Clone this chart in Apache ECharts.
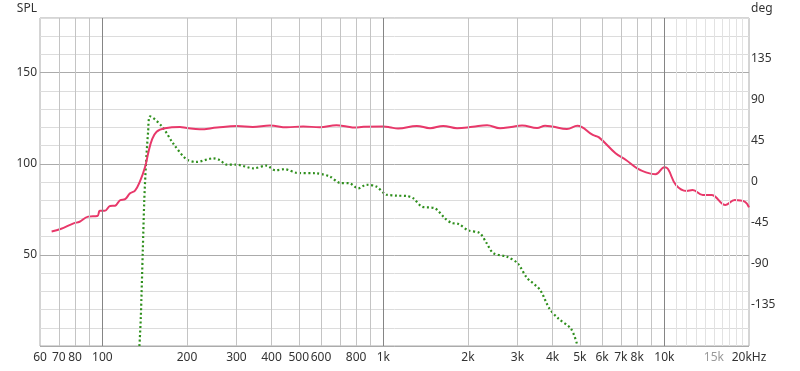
<!DOCTYPE html>
<html>
<head>
<meta charset="utf-8">
<script src="https://cdn.jsdelivr.net/npm/echarts@6/dist/echarts.min.js"></script>
<style>html,body{margin:0;padding:0;background:#fff}#c{width:800px;height:371px}</style>
</head>
<body>
<div id="c"></div>
<script>
// SPL response (Hz, dB)
const splFreq = [66,71,79,83,89,96,98,102,106.5,111,115.6,120.5,125.5,130.7,136,142,146,150,156,167,189,200,222,256,301,343,395,453,518,594,681,740,790,850,1000,1050,1128,1315,1466,1632,1829,2080,2339,2602,2850,3116,3524,3762,4000,4499,4900,5560,5850,6700,7300,8000,8600,9300,10000,10300,11000,12000,12600,13700,14700,16500,17800,19300,20000];
const splValue = [62.8,64.2,67.3,68.2,71,71.3,74.2,74.2,76.8,77,80,80.6,83.8,85.3,90.2,98.4,106.6,113,117.6,119.5,120.2,119.6,118.9,119.9,120.7,120.2,121,120,120.5,120,121.1,120.5,119.9,120.3,120.4,120.1,119.3,120.8,119.5,120.8,119.5,120.3,121.1,119.5,120.2,121,119.6,120.9,120.4,119.1,120.9,115.8,114.5,105.8,102.1,97.5,95.3,94.2,98.1,97.1,88.3,85.1,85.6,82.9,82.9,77.4,80.1,79.2,76.1];
// Phase (Hz, deg)
const phaseFreq = [135.5,137,139.3,141,143,145.5,148,163,179,199,216,248,262,277,300,345,384,412,446,492,578,645,700,760,813,870,944,1010,1024,1120,1212,1279,1370,1528,1658,1750,1850,2000,2200,2330,2460,2750,3000,3240,3600,3900,4200,4650,4900];
const phaseValue = [-180,-150,-75,-20,20,55,72,61,42,25,22,26,24,19,19,15,18,13,14,10,9.5,6,-1,-1.5,-7,-3,-5,-13,-14,-15,-15.4,-18,-27,-29,-40,-45,-46,-53,-56,-67,-78,-82,-89,-105,-118,-139,-150,-161,-179];
// X axis ticks
const tickFreqs = [60,70,80,100,200,300,400,500,600,800,1000,2000,3000,4000,5000,6000,7000,8000,10000,15000,20000];
const tickLabels = ['60','70','80','100','200','300','400','500','600','800','1k','2k','3k','4k','5k','6k','7k','8k','10k','15k','20kHz'];
const mutedLabels = ['15k'];
const gridMinorFreqs = [70,80,90,200,300,400,500,600,700,800,900,2000,3000,4000,5000,6000,7000,8000,9000];
const gridMajorFreqs = [100,1000,10000];
const gridFaintFreqs = [11000,12000,13000,14000,15000,16000,17000,18000,19000];
const splTickLabels = [50,100,150];
const degTickLabels = [-135,-90,-45,0,45,90,135];

const FONT = 'Noto Sans';
const chart = echarts.init(document.getElementById('c'));

const gridLines = [];
gridMinorFreqs.forEach(f => gridLines.push({xAxis: f, lineStyle: {color: '#c4c4c4', width: 1, type: 'solid'}}));
gridFaintFreqs.forEach(f => gridLines.push({xAxis: f, lineStyle: {color: '#e2e2e2', width: 1, type: 'solid'}}));
gridMajorFreqs.forEach(f => gridLines.push({xAxis: f, lineStyle: {color: '#858585', width: 1, type: 'solid'}}));

const labelLines = tickFreqs.map((f, i) => ({
  xAxis: f,
  lineStyle: {color: 'rgba(0,0,0,0)', width: 1},
  label: {
    show: true, position: 'start', distance: 6,
    formatter: tickLabels[i],
    color: mutedLabels.includes(tickLabels[i]) ? '#9a9a9a' : '#333',
    fontFamily: FONT, fontSize: 12
  }
}));

chart.setOption({
  animation: false,
  grid: {left: 40, right: 51, top: 18, bottom: 25, show: true, borderColor: '#aaa', borderWidth: 1, containLabel: false},
  xAxis: {
    type: 'log', logBase: 10, min: 60, max: 20000,
    axisLine: {show: false}, axisTick: {show: false}, axisLabel: {show: false},
    splitLine: {show: false}, minorSplitLine: {show: false}
  },
  yAxis: [{
    type: 'value', min: 0, max: 180, interval: 10, position: 'left',
    name: 'SPL', nameLocation: 'end', nameGap: 3,
    nameTextStyle: {align: 'right', color: '#333', fontFamily: FONT, fontSize: 12, padding: [0, 3, 0, 0]},
    axisLine: {show: false}, axisTick: {show: false},
    axisLabel: {color: '#333', fontFamily: FONT, fontSize: 12, margin: 3,
      formatter: v => splTickLabels.includes(v) ? String(v) : ''},
    splitLine: {show: true, lineStyle: {color: ['#ababab', '#dcdcdc', '#dcdcdc', '#dcdcdc', '#dcdcdc']}}
  }, {
    type: 'value', min: -180, max: 180, interval: 45, position: 'right',
    name: 'deg', nameLocation: 'end', nameGap: 3,
    nameTextStyle: {align: 'left', color: '#333', fontFamily: FONT, fontSize: 12, padding: [0, 0, 0, 2]},
    axisLine: {show: false}, axisTick: {show: false},
    axisLabel: {color: '#333', fontFamily: FONT, fontSize: 12, margin: 2,
      formatter: v => degTickLabels.includes(v) ? String(v) : ''},
    splitLine: {show: false}
  }],
  series: [{
    type: 'line', data: [], z: 1, silent: true, clip: false,
    markLine: {silent: true, symbol: 'none', animation: false, label: {show: false}, emphasis: {disabled: true}, data: gridLines}
  }, {
    type: 'line', data: [], z: 1, silent: true, clip: false,
    markLine: {silent: true, symbol: 'none', animation: false, emphasis: {disabled: true},
      label: {show: true, position: 'start', distance: 6, fontFamily: FONT, fontSize: 12, color: '#333'},
      data: labelLines}
  }, {
    name: 'Phase', type: 'line', yAxisIndex: 1, z: 3,
    data: phaseFreq.map((f, i) => [f, phaseValue[i]]),
    showSymbol: false, smooth: 0.3,
    lineStyle: {color: '#2f8f1d', width: 2.2, type: [2, 2.5]}
  }, {
    name: 'SPL', type: 'line', yAxisIndex: 0, z: 4,
    data: splFreq.map((f, i) => [f, splValue[i]]),
    showSymbol: false, smooth: 0.4,
    lineStyle: {color: '#e8386a', width: 2}
  }]
});
</script>
</body>
</html>
